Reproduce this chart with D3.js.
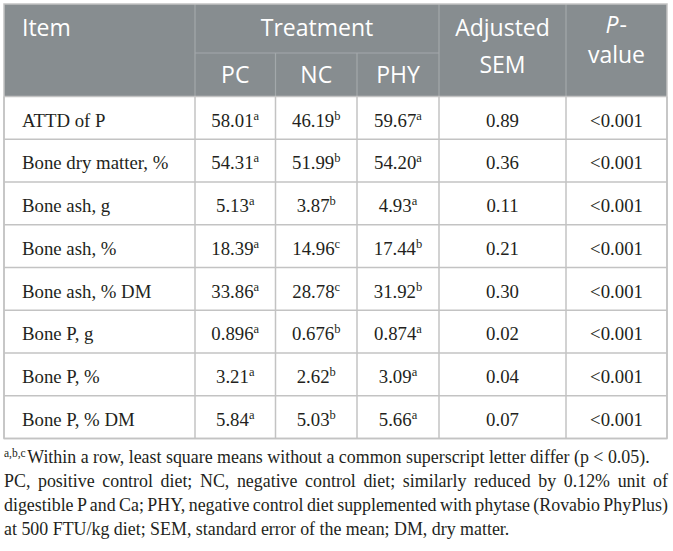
<!DOCTYPE html>
<html>
<head>
<meta charset="utf-8">
<script src="https://cdn.jsdelivr.net/npm/d3@7"></script>
<style>
  html, body { margin: 0; padding: 0; background: #ffffff; }
  svg { display: block; }
</style>
</head>
<body>
<script>
// ---------- data ----------
const items = ["ATTD of P", "Bone dry matter, %", "Bone ash, g", "Bone ash, %", "Bone ash, % DM", "Bone P, g", "Bone P, %", "Bone P, % DM"];
const pcValues  = ["58.01", "54.31", "5.13", "18.39", "33.86", "0.896", "3.21", "5.84"];
const pcLetters = ["a", "a", "a", "a", "a", "a", "a", "a"];
const ncValues  = ["46.19", "51.99", "3.87", "14.96", "28.78", "0.676", "2.62", "5.03"];
const ncLetters = ["b", "b", "b", "c", "c", "b", "b", "b"];
const phyValues = ["59.67", "54.20", "4.93", "17.44", "31.92", "0.874", "3.09", "5.66"];
const phyLetters= ["a", "a", "a", "b", "b", "a", "a", "a"];
const semValues = ["0.89", "0.36", "0.11", "0.21", "0.30", "0.02", "0.04", "0.07"];
const pValues   = ["<0.001", "<0.001", "<0.001", "<0.001", "<0.001", "<0.001", "<0.001", "<0.001"];
const treatments = ["PC", "NC", "PHY"];
const footnoteLines = [
  "Within a row, least square means without a common superscript letter differ (p < 0.05).",
  "PC, positive control diet; NC, negative control diet; similarly reduced by 0.12% unit of",
  "digestible P and Ca; PHY, negative control diet supplemented with phytase (Rovabio PhyPlus)",
  "at 500 FTU/kg diet; SEM, standard error of the mean; DM, dry matter."
];

// ---------- layout ----------
const W = 673, H = 551;
const colEdges = [4, 195, 275.5, 357, 439, 566, 667];
const headTop = 4, headMid = 53, headBot = 96.5;
const rowH = 42.75;
const headerBg = "#878d90";
const lineCol = "#c3c3c3";
const headLine = "#a3a8ab";
const sans = "'Open Sans', 'Noto Sans', sans-serif";
const serif = "'Liberation Serif', 'Times New Roman', serif";
const textCol = "#231f20";

const svg = d3.select("body").append("svg").attr("width", W).attr("height", H);

const y = d3.scaleBand().domain(d3.range(items.length))
  .range([headBot, headBot + rowH * items.length]).paddingInner(0).paddingOuter(0);
const tableBot = headBot + rowH * items.length;
const cx = i => (colEdges[i] + colEdges[i + 1]) / 2;

// header background
svg.append("rect").attr("x", colEdges[0]).attr("y", headTop)
  .attr("width", colEdges[6] - colEdges[0]).attr("height", headBot - headTop)
  .attr("fill", headerBg);

// header grid lines
const hg = svg.append("g").attr("stroke", headLine).attr("stroke-width", 1.2);
[1, 4, 5].forEach(i => hg.append("line").attr("x1", colEdges[i]).attr("x2", colEdges[i]).attr("y1", headTop).attr("y2", headBot));
[2, 3].forEach(i => hg.append("line").attr("x1", colEdges[i]).attr("x2", colEdges[i]).attr("y1", headMid).attr("y2", headBot));
hg.append("line").attr("x1", colEdges[1]).attr("x2", colEdges[4]).attr("y1", headMid).attr("y2", headMid);

// body grid lines
const bg = svg.append("g").attr("stroke", lineCol).attr("stroke-width", 1.5).attr("fill", "none");
colEdges.forEach(x => bg.append("line").attr("x1", x).attr("x2", x).attr("y1", headBot).attr("y2", tableBot));
d3.range(items.length + 1).forEach(i => {
  const yy = i < items.length ? y(i) : tableBot;
  bg.append("line").attr("x1", colEdges[0]).attr("x2", colEdges[6]).attr("y1", yy).attr("y2", yy);
});
// outer border
svg.append("rect").attr("x", colEdges[0]).attr("y", headTop)
  .attr("width", colEdges[6] - colEdges[0]).attr("height", tableBot - headTop)
  .attr("fill", "none").attr("stroke", lineCol).attr("stroke-width", 1.5);

// header text
const ht = svg.append("g").attr("fill", "#ffffff").attr("font-family", sans).attr("font-size", 23);
ht.append("text").attr("x", 22).attr("y", 36).text("Item");
ht.append("text").attr("x", (colEdges[1] + colEdges[4]) / 2).attr("y", 36).attr("text-anchor", "middle").text("Treatment");
treatments.forEach((t, i) => ht.append("text").attr("x", cx(i + 1)).attr("y", 83).attr("text-anchor", "middle").text(t));
ht.append("text").attr("x", cx(4)).attr("y", 36).attr("text-anchor", "middle").text("Adjusted");
ht.append("text").attr("x", cx(4)).attr("y", 73).attr("text-anchor", "middle").text("SEM");
ht.append("text").attr("x", cx(5) + 2).attr("y", 33).attr("text-anchor", "end").attr("font-style", "italic").text("P");
ht.append("text").attr("x", cx(5) + 3).attr("y", 33).attr("text-anchor", "start").text("-");
ht.append("text").attr("x", cx(5)).attr("y", 63).attr("text-anchor", "middle").text("value");

// body text
const body = svg.append("g").attr("fill", textCol).attr("font-family", serif).attr("font-size", 18.8);
const baseOff = 30;
items.forEach((it, i) => {
  body.append("text").attr("x", 22).attr("y", y(i) + baseOff).text(it);
});
function supCell(vals, lets, col) {
  vals.forEach((v, i) => {
    const t = body.append("text").attr("x", cx(col)).attr("y", y(i) + baseOff).attr("text-anchor", "middle");
    t.append("tspan").text(v);
    t.append("tspan").attr("font-size", 12.5).attr("dy", -7).text(lets[i]);
  });
}
supCell(pcValues, pcLetters, 1);
supCell(ncValues, ncLetters, 2);
supCell(phyValues, phyLetters, 3);
semValues.forEach((v, i) => body.append("text").attr("x", cx(4)).attr("y", y(i) + baseOff).attr("text-anchor", "middle").text(v));
pValues.forEach((v, i) => body.append("text").attr("x", cx(5)).attr("y", y(i) + baseOff).attr("text-anchor", "middle").text(v));

// footnotes
const fn = svg.append("g").attr("fill", textCol).attr("font-family", serif).attr("font-size", 17.9);
const fnBase = [463, 487, 511, 535];
const fnLeft = 4, fnRight = 668;
const f1 = fn.append("text").attr("x", fnLeft).attr("y", fnBase[0]);
f1.append("tspan").attr("font-size", 11.5).attr("dy", -6).text("a,b,c");
f1.append("tspan").attr("dy", 6).attr("dx", 1.5).text(footnoteLines[0]);
[1, 2].forEach(k => {
  const t = fn.append("text").attr("x", fnLeft).attr("y", fnBase[k]).text(footnoteLines[k]);
  const nat = t.node().getComputedTextLength();
  const spaces = (footnoteLines[k].match(/ /g) || []).length;
  const ws = (fnRight - fnLeft - nat) / spaces;
  t.attr("word-spacing", ws);
});
fn.append("text").attr("x", fnLeft).attr("y", fnBase[3]).text(footnoteLines[3]);
</script>
</body>
</html>
